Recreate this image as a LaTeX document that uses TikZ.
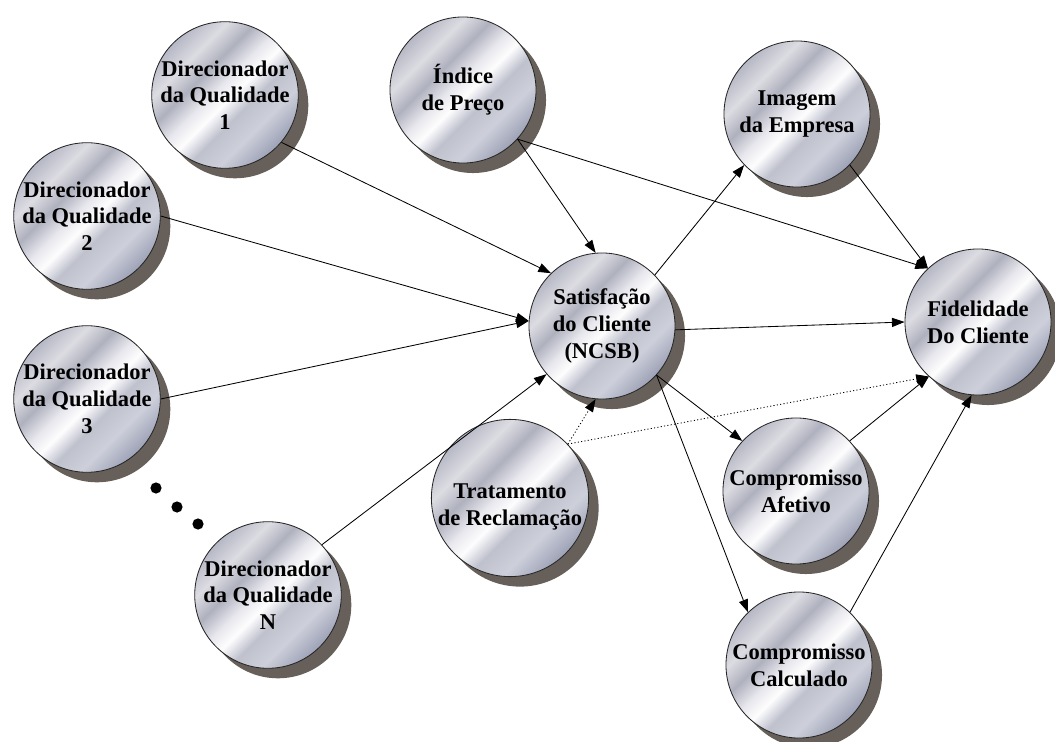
\documentclass[tikz,border=0pt]{standalone}
\usepackage{fontspec}
\setmainfont{Liberation Serif}
\usetikzlibrary{shadows,arrows.meta}
\definecolor{shadowcol}{HTML}{67605A}
\definecolor{mA}{HTML}{B6B8C5}
\definecolor{mB}{HTML}{DCDCE2}
\definecolor{mC}{HTML}{AFB1BE}
\definecolor{mD}{HTML}{E8E8EE}
\definecolor{mE}{HTML}{FDFDFE}
\definecolor{mF}{HTML}{BFC1CD}
\definecolor{mG}{HTML}{CDCFDA}
\definecolor{mH}{HTML}{9DA2B6}
\pgfdeclarehorizontalshading{metal}{100bp}{color(0bp)=(mA); color(25bp)=(mA); color(33bp)=(mB); color(40bp)=(mC); color(47bp)=(mD); color(52bp)=(mE); color(58bp)=(mF); color(66bp)=(mG); color(75bp)=(mH); color(100bp)=(mH)}
\begin{document}
\begin{tikzpicture}[x=0.025cm,y=-0.025cm,
  bubble/.style={circle, minimum size=3.65cm, inner sep=0pt, align=center,
    draw=black!85, line width=0.6pt, shading=metal, shading angle=-45,
    drop shadow={shadow xshift=0.25cm, shadow yshift=-0.25cm, fill=shadowcol, opacity=1},
    font=\bfseries\fontsize{16}{19}\selectfont},
  arr/.style={-{Triangle[length=9pt,width=6.5pt]}, line width=0.6pt},
  dotarr/.style={arr, dash pattern=on 0.8pt off 1.6pt},
  bigdot/.style={circle, fill=black, inner sep=0pt, minimum size=0.28cm}]
\useasboundingbox (0,0) rectangle (1055,742);
\node[bubble] (D1) at (225,95) {Direcionador\\da Qualidade\\1};
\node[bubble] (D2) at (87,216) {Direcionador\\da Qualidade\\2};
\node[bubble] (D3) at (87,399) {Direcionador\\da Qualidade\\3};
\node[bubble] (DN) at (268,595) {Direcionador\\da Qualidade\\N};
\node[bubble] (IP) at (463,90) {Índice\\de Preço};
\node[bubble] (IM) at (797,114) {Imagem\\da Empresa};
\node[bubble] (S) at (602,326) {Satisfação\\do Cliente\\(NCSB)};
\node[bubble] (F) at (978,322) {Fidelidade\\Do Cliente};
\node[bubble] (T) at (510,498) {\\[4pt]Tratamento\\de Reclamação};
\node[bubble] (CA) at (796,491) {Compromisso\\Afetivo};
\node[bubble] (CC) at (799,665) {Compromisso\\Calculado};
\node[bigdot] (p1) at (156,488) {};
\node[bigdot] (p2) at (177,507) {};
\node[bigdot] (p3) at (198,524) {};
\draw[arr] (D1.-40) -- (S.134);
\draw[arr] (D2.0) -- (S.176);
\draw[arr] (D3.0) -- (S.176);
\draw[arr] (DN.43) -- (S.221);
\draw[arr] (IP.-42) -- (S.95);
\draw[arr] (IP.-42) -- (F.133);
\draw[arr] (S.44) -- (IM.224);
\draw[arr] (IM.-44) -- (F.133);
\draw[arr] (S.-3) -- (F.180);
\draw[arr] (S.-42) -- (CA.137);
\draw[arr] (S.-42) -- (CC.134);
\draw[arr] (CA.43) -- (F.228);
\draw[arr] (CC.46) -- (F.265);
\draw[dotarr] (T.43) -- (S.265);
\draw[dotarr] (T.43) -- (F.228);
\end{tikzpicture}
\end{document}
